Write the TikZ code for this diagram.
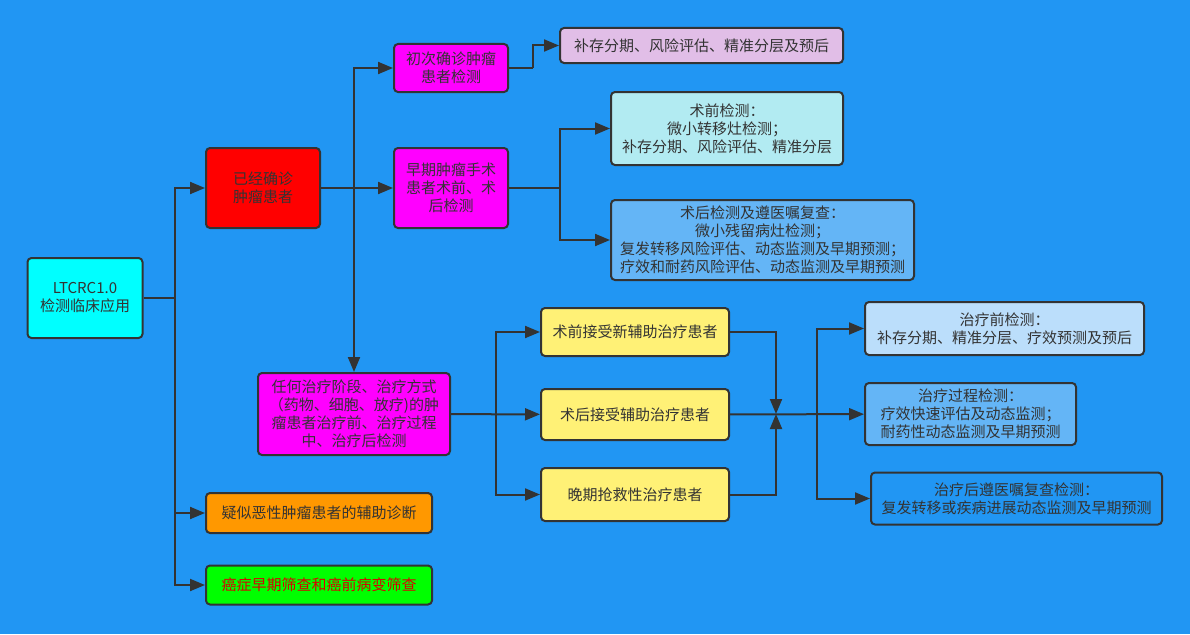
\documentclass[tikz,border=0pt]{standalone}
\usepackage{fontspec}
\setmainfont{Noto Sans CJK SC}
\usetikzlibrary{arrows.meta}
\definecolor{grund}{HTML}{2196F3}
\definecolor{rand}{HTML}{333333}
\definecolor{tuerkis}{HTML}{00FFFF}
\definecolor{rot}{HTML}{FF0000}
\definecolor{pink}{HTML}{FF00FF}
\definecolor{gruen}{HTML}{00FF00}
\definecolor{rosa}{HTML}{E1BEE7}
\definecolor{hellcyan}{HTML}{B2EBF2}
\definecolor{mittelblau}{HTML}{64B5F6}
\definecolor{hellblau}{HTML}{BBDEFB}
\definecolor{gelb}{HTML}{FFF176}
\definecolor{orange}{HTML}{FF9800}
\begin{document}
\begin{tikzpicture}[x=1pt,y=-1pt,
    kasten/.style={draw=rand, line width=2pt, rounded corners=4pt, align=center,
        inner sep=0pt, text=rand, font=\fontsize{15}{18}\selectfont},
    linie/.style={draw=rand, line width=2pt},
    pfeil/.style={linie, -{Triangle[length=15pt,width=12pt]}}]
\fill[grund] (0,0) rectangle (1190,634);
\useasboundingbox (0,0) rectangle (1190,634);

\node[kasten, fill=tuerkis, minimum width=115, minimum height=80] (root) at (85,298) {LTCRC1.0\\检测临床应用};
\node[kasten, fill=rot, minimum width=114, minimum height=80] (red) at (263,188) {已经确诊\\肿瘤患者};
\node[kasten, fill=orange, minimum width=226, minimum height=40] (orange) at (319,513) {疑似恶性肿瘤患者的辅助诊断};
\node[kasten, fill=gruen, text=rot!85!black, minimum width=226, minimum height=39] (green) at (319,585) {癌症早期筛查和癌前病变筛查};

\node[kasten, fill=pink, minimum width=114, minimum height=48] (m1) at (451,68) {初次确诊肿瘤\\患者检测};
\node[kasten, fill=pink, minimum width=114, minimum height=80] (m2) at (451,188) {早期肿瘤手术\\患者术前、术\\后检测};
\node[kasten, fill=pink, minimum width=192, minimum height=82] (m3) at (354,414) {任何治疗阶段、治疗方式\\（药物、细胞、放疗)的肿\\瘤患者治疗前、治疗过程\\中、治疗后检测};

\node[kasten, fill=rosa, minimum width=283, minimum height=35] (prog) at (701.5,45.5) {补存分期、风险评估、精准分层及预后};
\node[kasten, fill=hellcyan, minimum width=232, minimum height=73] (vor) at (727,128.5) {术前检测：\\微小转移灶检测；\\补存分期、风险评估、精准分层};
\node[kasten, fill=mittelblau, minimum width=303, minimum height=80] (nach) at (762.5,240) {术后检测及遵医嘱复查：\\微小残留病灶检测；\\复发转移风险评估、动态监测及早期预测；\\疗效和耐药风险评估、动态监测及早期预测};

\node[kasten, fill=gelb, minimum width=188, minimum height=48] (y1) at (635,332) {术前接受新辅助治疗患者};
\node[kasten, fill=gelb, minimum width=188, minimum height=51] (y2) at (635,414.5) {术后接受辅助治疗患者};
\node[kasten, fill=gelb, minimum width=188, minimum height=53] (y3) at (635,494.5) {晚期抢救性治疗患者};

\node[kasten, fill=hellblau, minimum width=279, minimum height=53] (r1) at (1004.5,328.5) {治疗前检测：\\补存分期、精准分层、疗效预测及预后};
\node[kasten, fill=mittelblau, minimum width=211, minimum height=62] (r2) at (970.5,414) {治疗过程检测：\\疗效快速评估及动态监测；\\耐药性动态监测及早期预测};
\node[kasten, fill=grund, minimum width=291, minimum height=52] (r3) at (1016.5,498.5) {治疗后遵医嘱复查检测：\\复发转移或疾病进展动态监测及早期预测};

\coordinate (st) at (175,298);
\coordinate (k1) at (354,188);
\coordinate (k2) at (533,68);
\coordinate (k3) at (560,188);
\coordinate (k4) at (496,414);
\coordinate (k5) at (776,414);
\coordinate (k6) at (817,414);

\draw[linie] (root) -- (st);
\draw[pfeil] (st) |- (red);
\draw[pfeil] (st) |- (orange);
\draw[pfeil] (st) |- (green);

\draw[pfeil] (red) -- (m2);
\draw[pfeil] (k1) |- (m1);
\draw[pfeil] (k1) -- (m3);
\draw[linie] (m1) -- (k2);
\draw[pfeil] (k2) |- (prog);
\draw[linie] (m2) -- (k3);
\draw[pfeil] (k3) |- (vor);
\draw[pfeil] (k3) |- (nach);

\draw[pfeil] (m3) -- (y2);
\draw[pfeil] (k4) |- (y1);
\draw[pfeil] (k4) |- (y3);
\draw[pfeil] (y1) -| (k5);
\draw[pfeil] (y3) -| (k5);
\draw[pfeil] (y2) -- (r2);
\draw[pfeil] (k6) |- (r1);
\draw[pfeil] (k6) |- (r3);
\end{tikzpicture}
\end{document}
